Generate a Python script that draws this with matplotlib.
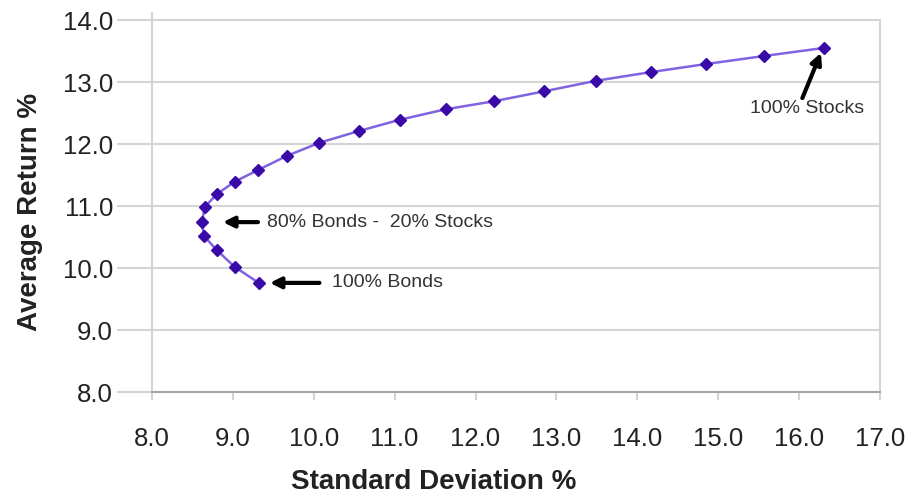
import matplotlib
matplotlib.use("Agg")
import matplotlib.pyplot as plt
from matplotlib.lines import Line2D

plt.rcParams['font.family'] = ['Liberation Sans', 'DejaVu Sans']

std_dev = [9.32, 9.02, 8.80, 8.64, 8.62, 8.65, 8.80, 9.02, 9.31, 9.67, 10.07,
           10.56, 11.06, 11.63, 12.23, 12.85, 13.49, 14.17, 14.85, 15.57, 16.31]
avg_return = [9.76, 10.02, 10.29, 10.52, 10.74, 10.98, 11.19, 11.39, 11.58, 11.81, 12.02,
              12.21, 12.39, 12.56, 12.69, 12.85, 13.02, 13.16, 13.29, 13.42, 13.55]
x_ticks = [8.0, 9.0, 10.0, 11.0, 12.0, 13.0, 14.0, 15.0, 16.0, 17.0]
y_ticks = [8.0, 9.0, 10.0, 11.0, 12.0, 13.0, 14.0]

fig = plt.figure(figsize=(9.15, 4.95), dpi=100)
ax = fig.add_axes([152/915, 1-392/495, (880-152)/915, (392-20)/495])

grid_c = '#d4d4d4'
ax.plot(std_dev, avg_return, color='#7f63e0', lw=1.8, zorder=3)
ax.plot(std_dev, avg_return, ls='none', marker='D', ms=6.5, color='#3a0aa8',
        mec='#3a0aa8', zorder=4)

ax.set_xlim(8, 17)
ax.set_ylim(8, 14)
ax.set_xticks(x_ticks)
ax.set_yticks(y_ticks)
ax.set_xticklabels([f"{v:.1f}" for v in x_ticks])
ax.set_yticklabels([f"{v:.1f}" for v in y_ticks])
ax.yaxis.grid(True, color=grid_c, lw=1.5, zorder=0)
ax.set_axisbelow(True)

for s in ['top', 'right', 'left']:
    ax.spines[s].set_color(grid_c)
    ax.spines[s].set_linewidth(1.5)
ax.spines['bottom'].set_color('#a6a6a6')
ax.spines['bottom'].set_linewidth(1.5)

ax.tick_params(axis='y', direction='out', length=25, width=1.5, color=grid_c,
               labelsize=18.5, pad=3, labelcolor='#222222')
ax.tick_params(axis='x', direction='out', length=6, width=1.5, color=grid_c,
               labelsize=18.5, pad=19, labelcolor='#222222')

# left spine extends slightly above top
ax.add_line(Line2D([0, 0], [1, 1.02], transform=ax.transAxes, color=grid_c,
                   lw=1.5, clip_on=False))

ax.set_xlabel('Standard Deviation %', fontsize=20, fontweight='bold', color='#222222')
ax.xaxis.set_label_coords((434-152)/728, (392-482)/372)
ax.xaxis.label.set_verticalalignment('center')
ax.set_ylabel('Average Return %', fontsize=20, fontweight='bold', color='#222222')
ax.yaxis.set_label_coords((30-152)/728, (392-212)/372)
ax.yaxis.label.set_verticalalignment('center')

arrow = dict(arrowstyle='-|>', color='black', lw=3, mutation_scale=16,
             shrinkA=0, shrinkB=0)
# 80/20 annotation
ax.annotate('', xy=(8.877, avg_return[4]), xytext=(9.31, avg_return[4]),
            arrowprops=arrow)
ax.text(9.42, avg_return[4], '80% Bonds -  20% Stocks', fontsize=14,
        va='center', ha='left', color='#333333')
# 100% bonds
ax.annotate('', xy=(9.457, avg_return[0]), xytext=(10.07, avg_return[0]),
            arrowprops=arrow)
ax.text(10.22, avg_return[0], '100% Bonds', fontsize=14,
        va='center', ha='left', color='#333333')
# 100% stocks
ax.annotate('', xy=(16.27, 13.47), xytext=(16.04, 12.74), arrowprops=arrow)
ax.text(16.10, 12.58, '100% Stocks', fontsize=14,
        va='center', ha='center', color='#333333')

fig.savefig('out.png', dpi=100)
